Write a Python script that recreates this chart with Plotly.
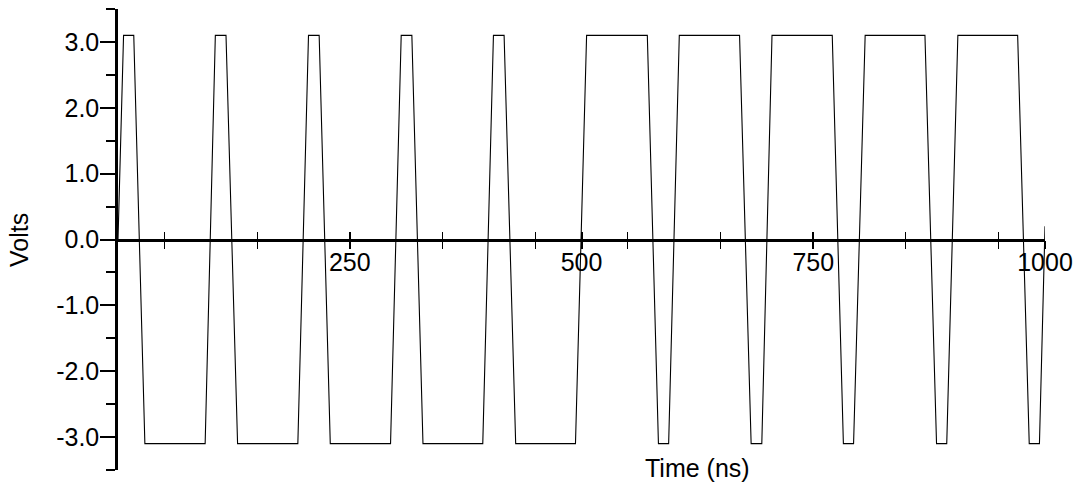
import plotly.graph_objects as go

# Waveform samples (time in ns, voltage in V)
time_ns = [0, 6, 17, 29, 94, 105, 116.5, 129, 194, 205.5, 217, 229, 294, 305.5, 317, 329,
           393.5, 405, 416.5, 429, 493.5, 505.5, 571, 583, 594, 605.5, 670.5, 683, 694.5,
           705.5, 770.5, 782.5, 793.5, 806, 870.5, 883, 894, 906, 970.5, 983, 994, 1000]
volts = [0, 3.1, 3.1, -3.1, -3.1, 3.1, 3.1, -3.1, -3.1, 3.1, 3.1, -3.1, -3.1, 3.1, 3.1, -3.1,
         -3.1, 3.1, 3.1, -3.1, -3.1, 3.1, 3.1, -3.1, -3.1, 3.1, 3.1, -3.1, -3.1,
         3.1, 3.1, -3.1, -3.1, 3.1, 3.1, -3.1, -3.1, 3.1, 3.1, -3.1, -3.1, 0.2]

x_major_ticks = [250, 500, 750, 1000]
x_major_labels = ["250", "500", "750", "1000"]
x_minor_ticks = [50, 150, 250, 350, 450, 550, 650, 750, 850, 950]
y_major_ticks = [-3, -2, -1, 0, 1, 2, 3]
y_major_labels = ["-3.0", "-2.0", "-1.0", "0.0", "1.0", "2.0", "3.0"]
y_minor_ticks = [-3.5, -2.5, -1.5, -0.5, 0.5, 1.5, 2.5, 3.5]

FONT = "Liberation Sans, Arial, sans-serif"
FS = 25

fig = go.Figure()
fig.add_trace(go.Scatter(x=time_ns, y=volts, mode="lines",
                         line=dict(color="black", width=1.1), hoverinfo="skip",
                         showlegend=False))
# empty trace so the overlay axis (upper half of the crossing x ticks) is created
fig.add_trace(go.Scatter(x=[], y=[], xaxis="x2", yaxis="y", showlegend=False))

common_x = dict(range=[0, 1000], domain=[0, 1], anchor="free", position=0.5,
                showgrid=False, zeroline=False)

# the page body adds an 8px offset, so the figure is 8px smaller and margins compensate
fig.update_layout(
    width=1074, height=481,
    margin=dict(l=109.5, r=37, t=1, b=19),
    paper_bgcolor="white", plot_bgcolor="white",
    font=dict(family=FONT, size=FS, color="black"),
    xaxis=dict(**common_x, showline=True, linecolor="black", linewidth=2.5,
               tickmode="array", tickvals=x_major_ticks, ticktext=x_major_labels,
               ticks="outside", ticklen=8, tickwidth=2, tickcolor="black",
               ticklabelstandoff=-8,
               minor=dict(tickmode="array", tickvals=x_minor_ticks, ticks="outside",
                          ticklen=8, tickwidth=1.3, tickcolor="black"),
               tickfont=dict(family=FONT, size=FS)),
    xaxis2=dict(**common_x, overlaying="x", showline=False,
                tickmode="array", tickvals=x_major_ticks, ticktext=x_major_labels,
                showticklabels=False,
                ticks="inside", ticklen=8, tickwidth=2, tickcolor="black",
                minor=dict(tickmode="array", tickvals=x_minor_ticks, ticks="inside",
                           ticklen=8, tickwidth=1.3, tickcolor="black")),
    yaxis=dict(range=[-3.5, 3.5], domain=[0, 1], anchor="x",
               showgrid=False, zeroline=False,
               showline=True, linecolor="black", linewidth=2.5,
               tickmode="array", tickvals=y_major_ticks, ticktext=y_major_labels,
               ticks="outside", ticklen=15, tickwidth=1.5, tickcolor="black",
               ticklabelstandoff=-4,
               minor=dict(tickmode="array", tickvals=y_minor_ticks, ticks="outside",
                          ticklen=9, tickwidth=1.5, tickcolor="black"),
               tickfont=dict(family=FONT, size=FS)),
    annotations=[
        dict(text="Time (ns)", xref="paper", yref="paper", x=0.6248, y=0.004,
             xanchor="center", yanchor="middle", showarrow=False,
             font=dict(family=FONT, size=FS)),
        dict(text="Volts", xref="paper", yref="paper", x=-0.1067, y=0.499,
             xanchor="center", yanchor="middle", textangle=-90, showarrow=False,
             font=dict(family=FONT, size=FS)),
    ],
)

fig.write_html("out.html")
